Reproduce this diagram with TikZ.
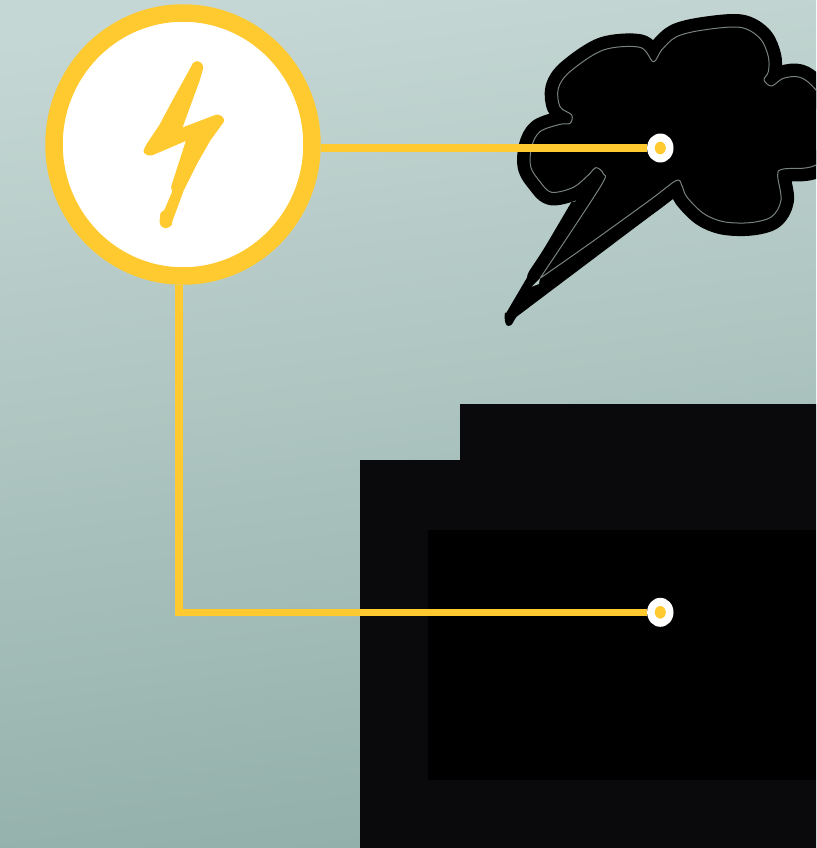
\documentclass[tikz,border=0pt]{standalone}
\usepackage{tikz}
\usetikzlibrary{positioning,shapes.geometric}

\definecolor{ambr}{HTML}{FFCA30}
\definecolor{skytop}{HTML}{C5D7D4}
\definecolor{skylow}{HTML}{92AFA9}
\definecolor{wallout}{HTML}{0A0A0C}
\definecolor{rimgrey}{HTML}{77827F}

\tikzset{
  wire/.style={draw=ambr, line width=7.5pt},
  ringnode/.style={ellipse, draw=ambr, fill=white, line width=17.5pt, inner sep=0pt,
                   minimum width=258pt, minimum height=263pt},
  dotring/.style={ellipse, fill=white, inner sep=0pt, minimum width=26.4pt, minimum height=29pt},
  dotcore/.style={ellipse, fill=ambr, inner sep=0pt, minimum width=11pt, minimum height=12.6pt}
}

\begin{document}
\begin{tikzpicture}[x=1pt, y=-1pt]
  \useasboundingbox (0,0) rectangle (816,848);
  \clip (0,0) rectangle (816,848);
  \shade[top color=skytop, bottom color=skylow, shading angle=8] (-40,-10) rectangle (856,858);

  % building
  \fill[wallout] (460,404) -- (816,404) -- (816,848) -- (360,848) -- (360,460) -- (460,460) -- cycle;
  \fill[black] (428,530) rectangle (816,780);

  % cloud, in crop coordinates
  \begin{scope}[shift={(490,0)}, scale=1/3]
    \def\cloudline{plot[smooth, tension=0.55] coordinates {(150,835) (330,562) (340,522) (318,503) (295,525)
      (250,562) (185,577) (150,545) (122,500) (125,440) (150,395) (210,373) (240,370) (245,345)
      (210,320) (205,265) (240,215) (340,150) (450,142) (490,185) (515,150) (560,110) (640,90)
      (750,82) (810,115) (835,170) (835,215) (822,240) (845,258) (880,235) (930,232) (978,270)
      (1080,400) (978,495) (880,507) (863,525) (873,600) (845,650) (780,668) (700,665) (640,640)
      (590,590) (575,555) (558,542) (480,600) (300,730) (150,835)}}
    \fill[black] (245,605) -- (48,940) to[out=110,in=180] (55,978) to[out=0,in=225] (80,950) -- (555,592) -- cycle;
    \draw[black, fill=black, line width=26pt, line join=round] \cloudline -- cycle;
    \fill[skytop!60!skylow] (150,835) -- (125,860) -- (147,852) -- cycle;
    \draw[rimgrey, line width=1pt, line join=round] \cloudline;
  \end{scope}

  \node (bolt) [ringnode] at (183,144.5) {};
  \node (cloudpt) [dotring] at (660.3,148) {};
  \node (cloudcore) [dotcore] at (cloudpt) {};
  \node (boxpt) [dotring] at (660.3,612.3) {};
  \node (boxcore) [dotcore] at (boxpt) {};
  \coordinate (elbow) at (179,612.3);

  \draw[wire] (bolt.east |- cloudpt) -- (cloudpt);
  \draw[wire, line join=miter] (bolt.south -| elbow) -- (elbow) -- (boxpt);

  % flash
  \begin{scope}[shift={(40,0)}, scale=1/3]
    \fill[ambr, draw=ambr, line width=1pt, line join=round] (470,185) to[out=0,in=80] (488,205) -- (478,240) -- (425,385)
      -- (530,345) to[out=0,in=70] (550,365) -- (510,420) -- (470,490) -- (430,570) -- (395,665)
      to[out=-70,in=0] (375,683) to[out=180,in=-90] (360,665) -- (363,640) -- (375,630) -- (398,575)
      -- (395,560) -- (440,420) -- (335,465) to[out=180,in=-90] (312,452) -- (320,435) -- (360,375)
      -- (400,300) -- (455,200) to[out=70,in=180] cycle;
  \end{scope}
\end{tikzpicture}
\end{document}
